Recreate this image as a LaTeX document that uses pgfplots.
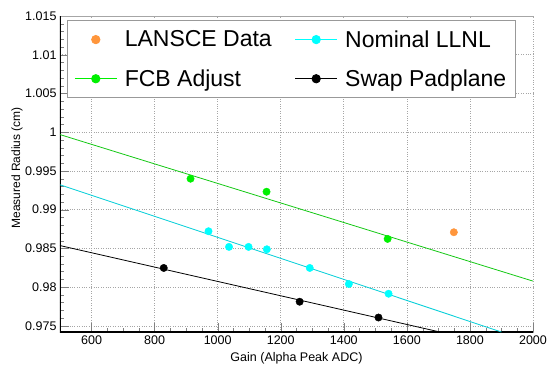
\documentclass[border=0pt]{standalone}
\usepackage{pgfplots}
\pgfplotsset{compat=1.18}
\usepackage{fontspec}
\setmainfont{Liberation Sans}
\definecolor{lorange}{RGB}{255,150,60}
\definecolor{lgreen}{RGB}{0,240,0}
\definecolor{fgreen}{RGB}{20,200,20}
\definecolor{lcyan}{RGB}{0,255,255}
\definecolor{fcyan}{RGB}{0,205,215}
\newcommand{\legfont}{\fontsize{23}{26}\selectfont}
\begin{document}
\begin{tikzpicture}
\begin{axis}[
  at={(0pt,0pt)}, anchor=south west,
  scale only axis, width=473pt, height=316pt,
  xmin=500, xmax=2000, ymin=0.9742, ymax=1.015,
  xtick={600,800,...,2000},
  ytick={0.975,0.98,...,1.0151},
  minor x tick num=3, minor y tick num=4,
  xtick pos=bottom, ytick pos=left,
  tick align=inside,
  major tick length=9pt, minor tick length=4.5pt,
  grid=major,
  major grid style={gray!70, dotted, line width=0.6pt},
  /pgf/number format/assume math mode=true,
  yticklabel style={/pgf/number format/.cd, fixed, precision=3},
  xticklabel style={/pgf/number format/.cd, fixed, 1000 sep={}},
  ticklabel style={font=\fontsize{12.5}{14}\selectfont},
  xlabel={Gain (Alpha Peak ADC)},
  ylabel={Measured Radius (cm)},
  xlabel style={at={(axis description cs:0.5,-0.082)}, anchor=center, font=\fontsize{12.5}{14}\selectfont},
  ylabel style={at={(axis description cs:-0.091,0.52)}, anchor=center, font=\fontsize{12}{14}\selectfont},
  axis line style={draw=none},
  legend columns=2,
  legend style={at={(axis description cs:0.0148,0.987)}, anchor=north west,
    draw=gray!80, line width=0.8pt, fill=white,
    font=\legfont, inner xsep=7pt, inner ysep=8pt,
    row sep=17pt,
    nodes={font=\legfont},
    /tikz/every even column/.append style={column sep=21pt},
    cells={anchor=west}},
]
% frame
\draw[gray!70, line width=0.6pt] (rel axis cs:0,1) -- (rel axis cs:1,1) -- (rel axis cs:1,0);
\draw[black, line width=1.2pt] (rel axis cs:0,1) -- (rel axis cs:0,0) -- (rel axis cs:1,0);
% fit lines
\addplot[fgreen, line width=0.8pt, forget plot] coordinates {(500,0.99969) (2000,0.98077)};
\addplot[fcyan, line width=0.8pt, forget plot] coordinates {(500,0.99321) (1900,0.9742)};
\addplot[black, line width=0.8pt, forget plot] coordinates {(500,0.98536) (1705,0.9742)};
% data
\addplot[only marks, mark=*, mark size=3.7pt, color=lorange,
  legend image code/.code={\path[draw=none] (0pt,0pt) -- (48pt,0pt); \fill[lorange] (21pt,0pt) circle (4.2pt);}]
  coordinates {(1749,0.98708)};
\addlegendentry{LANSCE Data}
\addplot[only marks, mark=*, mark size=3.7pt, color=lcyan,
  legend image code/.code={\path[draw=none] (0pt,0pt) -- (48pt,0pt); \draw[lcyan, line width=0.8pt] (0pt,0pt) -- (42pt,0pt); \fill[lcyan] (21pt,0pt) circle (4.2pt);}]
  coordinates {(971,0.98721) (1036,0.98519) (1098,0.98519) (1156,0.98488) (1292,0.98247) (1416,0.98040) (1542,0.97914)};
\addlegendentry{Nominal LLNL}
\addplot[only marks, mark=*, mark size=3.7pt, color=lgreen,
  legend image code/.code={\path[draw=none] (0pt,0pt) -- (48pt,0pt); \draw[lgreen, line width=0.8pt] (0pt,0pt) -- (42pt,0pt); \fill[lgreen] (21pt,0pt) circle (4.2pt);}]
  coordinates {(914,0.99399) (1155,0.99231) (1539,0.98622)};
\addlegendentry{FCB Adjust}
\addplot[only marks, mark=*, mark size=3.7pt, color=black,
  legend image code/.code={\path[draw=none] (0pt,0pt) -- (48pt,0pt); \draw[black, line width=0.8pt] (0pt,0pt) -- (42pt,0pt); \fill[black] (21pt,0pt) circle (4.2pt);}]
  coordinates {(829,0.98247) (1260,0.97811) (1510,0.97607)};
\addlegendentry{Swap Padplane}
\end{axis}
\pgfresetboundingbox
\useasboundingbox (-60pt,-33pt) rectangle (487pt,332pt);
\end{tikzpicture}
\end{document}
